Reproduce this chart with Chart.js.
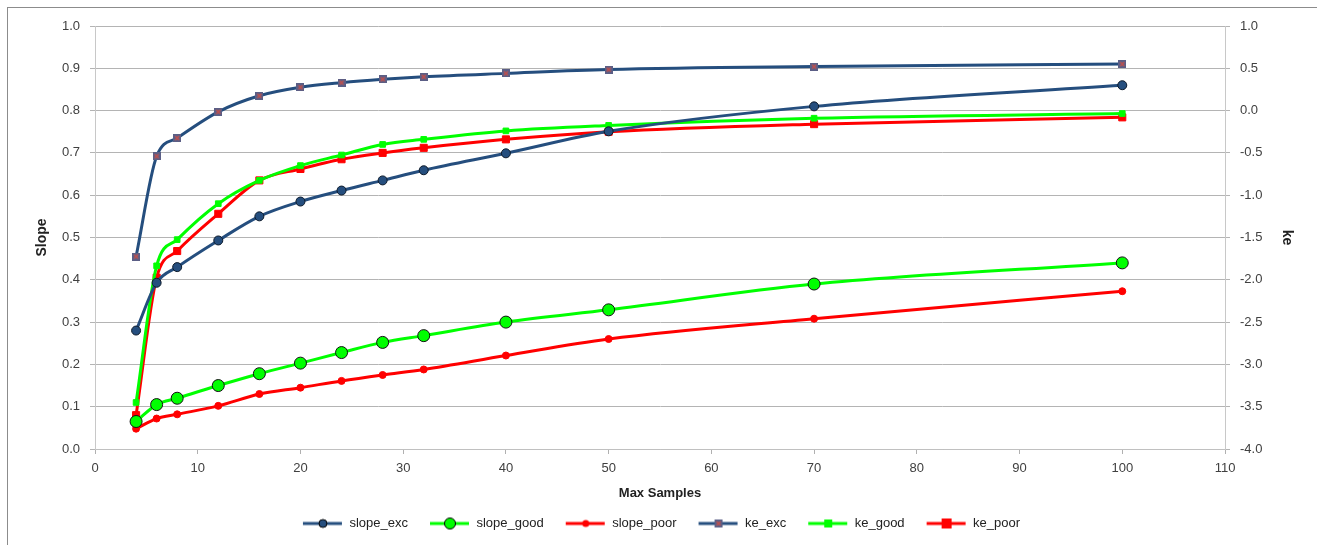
<!DOCTYPE html>
<html>
<head>
<meta charset="utf-8">
<script src="https://cdn.jsdelivr.net/npm/chart.js@4/dist/chart.umd.min.js"></script>
<style>
html,body{margin:0;padding:0;background:#fff}
#wrap{width:1317px;height:545px}
</style>
</head>
<body>
<div id="wrap"><canvas id="c"></canvas></div>
<script>
const maxSamples=[4,6,8,12,16,20,24,28,32,40,50,70,100]

const slopeExc=[0.28,0.393,0.43,0.493,0.55,0.585,0.611,0.635,0.659,0.699,0.751,0.81,0.86]
const slopeGood=[0.065,0.105,0.12,0.15,0.178,0.203,0.228,0.252,0.268,0.3,0.329,0.39,0.44]
const slopePoor=[0.048,0.072,0.082,0.102,0.13,0.145,0.161,0.175,0.188,0.221,0.26,0.308,0.373]

const keExc=[-1.725,-0.54,-0.325,-0.015,0.175,0.275,0.33,0.37,0.4,0.44,0.485,0.52,0.55]
const keGood=[-3.45,-1.835,-1.525,-1.1,-0.825,-0.65,-0.525,-0.4,-0.34,-0.24,-0.175,-0.09,-0.035]
const kePoor=[-3.6,-1.975,-1.66,-1.22,-0.825,-0.69,-0.575,-0.5,-0.44,-0.34,-0.25,-0.16,-0.08]

const NAVY="#254e7e"
const GREEN="#00ff00"
const RED="#ff0000"

function pts(ys){
return maxSamples.map((x,i)=>({x:x,y:ys[i]}))
}

// square marker with a red cross, like the excel one
function xSquare(size){
let cv=document.createElement("canvas")
cv.width=size;cv.height=size
let g=cv.getContext("2d")
g.fillStyle="#5b5f86"
g.fillRect(0,0,size,size)
g.strokeStyle="#c0504d"
g.lineWidth=1.6
g.beginPath()
g.moveTo(2,2);g.lineTo(size-2,size-2)
g.moveTo(size-2,2);g.lineTo(2,size-2)
g.stroke()
return cv
}

// legend sample: short line with the marker in the middle
// canvas is a bit wider than the line so items get more room
function legendIcon(color,kind){
let cv=document.createElement("canvas")
cv.width=46;cv.height=14
let g=cv.getContext("2d")
let cx=26
g.strokeStyle=color
g.lineWidth=3
g.beginPath();g.moveTo(6,7);g.lineTo(45,7);g.stroke()
if(kind==="circle"){
g.fillStyle=color;g.strokeStyle="#000";g.lineWidth=1
g.beginPath();g.arc(cx,7,4,0,Math.PI*2);g.fill();g.stroke()
}else if(kind==="bigcircle"){
g.fillStyle=color;g.strokeStyle="#000";g.lineWidth=1
g.beginPath();g.arc(cx,7,5.5,0,Math.PI*2);g.fill();g.stroke()
}else if(kind==="dot"){
g.fillStyle=color
g.beginPath();g.arc(cx,7,3.5,0,Math.PI*2);g.fill()
}else if(kind==="xsq"){
g.drawImage(xSquare(8),cx-4,3)
}else if(kind==="sq"){
g.fillStyle=color;g.fillRect(cx-4,3,8,8)
}else if(kind==="bigsq"){
g.fillStyle=color;g.fillRect(cx-5,2,10,10)
}
return cv
}

const legendIcons=[
legendIcon(NAVY,"circle"),
legendIcon(GREEN,"bigcircle"),
legendIcon(RED,"dot"),
legendIcon(NAVY,"xsq"),
legendIcon(GREEN,"sq"),
legendIcon(RED,"bigsq")
]

const borderBox={
id:"borderBox",
afterDraw(chart){
let ctx=chart.ctx
ctx.save()
ctx.strokeStyle="#8c8c8c"
ctx.lineWidth=1
ctx.strokeRect(7.5,7.5,1330,560)
ctx.restore()
}
}

const font="'Liberation Sans', Arial, sans-serif"
Chart.defaults.font.family=font
Chart.defaults.color="#404040"

const line={
borderWidth:3,
cubicInterpolationMode:"monotone",
pointBorderWidth:1
}

new Chart(document.getElementById("c"),{
type:"line",
data:{
datasets:[
{...line,label:"slope_exc",data:pts(slopeExc),yAxisID:"y",borderColor:NAVY,pointBackgroundColor:NAVY,pointBorderColor:"#0d1a2a",pointRadius:4.5,pointStyle:"circle",order:1},
{...line,label:"slope_good",data:pts(slopeGood),yAxisID:"y",borderColor:GREEN,pointBackgroundColor:GREEN,pointBorderColor:"#111",pointRadius:6,pointStyle:"circle",order:2},
{...line,label:"slope_poor",data:pts(slopePoor),yAxisID:"y",borderColor:RED,pointBackgroundColor:RED,pointBorderColor:RED,pointRadius:3.5,pointStyle:"circle",order:3},
{...line,label:"ke_exc",data:pts(keExc),yAxisID:"y2",borderColor:NAVY,pointStyle:xSquare(8),order:4},
{...line,label:"ke_good",data:pts(keGood),yAxisID:"y2",borderColor:GREEN,pointBackgroundColor:GREEN,pointBorderColor:GREEN,pointRadius:4,pointStyle:"rect",order:5},
{...line,label:"ke_poor",data:pts(kePoor),yAxisID:"y2",borderColor:RED,pointBackgroundColor:RED,pointBorderColor:RED,pointRadius:5,pointStyle:"rect",order:6}
]
},
options:{
responsive:true,
maintainAspectRatio:false,
animation:false,
layout:{padding:{left:10,right:10,top:26,bottom:5}},
plugins:{
tooltip:{enabled:false},
legend:{
position:"bottom",
labels:{
usePointStyle:true,
pointStyleWidth:46,
boxHeight:14,
padding:16,
font:{size:13},
color:"#222",
generateLabels(chart){
let items=Chart.defaults.plugins.legend.labels.generateLabels(chart)
items.forEach((it,i)=>{it.pointStyle=legendIcons[i]})
return items
}
}
}
},
scales:{
x:{
type:"linear",
min:0,max:110,
ticks:{stepSize:10,font:{size:13},color:"#404040",padding:7},
grid:{drawOnChartArea:false,color:"#b0b0b0",tickLength:5},
border:{color:"#c0c0c0"},
title:{display:true,text:"Max Samples",font:{size:13,weight:"bold"},color:"#222",padding:{top:5,bottom:0}},
afterFit(s){s.height=52}
},
y:{
position:"left",
min:0,max:1,
ticks:{stepSize:0.1,font:{size:13},color:"#404040",callback:v=>v.toFixed(1),padding:10},
grid:{color:"#b4b4b4",tickLength:5},
border:{color:"#c8c8c8"},
title:{display:true,text:"Slope",font:{size:14,weight:"bold"},color:"#222",padding:{top:24,bottom:0}},
afterFit(s){s.width=85}
},
y2:{
position:"right",
min:-4,max:1,
ticks:{stepSize:0.5,font:{size:13},color:"#404040",callback:v=>v.toFixed(1),padding:10},
grid:{drawOnChartArea:false,color:"#b4b4b4",tickLength:5},
border:{color:"#c8c8c8"},
title:{display:true,text:"ke",font:{size:14,weight:"bold"},color:"#222",padding:{top:12,bottom:0}},
afterFit(s){s.width=82}
}
}
},
plugins:[borderBox]
})
</script>
</body>
</html>
